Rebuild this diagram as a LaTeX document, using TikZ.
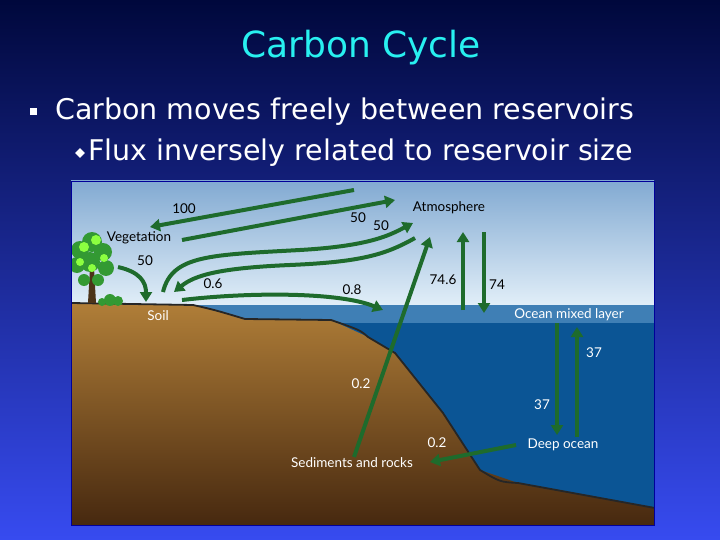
\documentclass[tikz,border=0pt]{standalone}
\usepackage{fontspec}
\setmainfont{DejaVu Sans}
\newfontfamily\lbl{Lato}
\usetikzlibrary{arrows.meta}
\definecolor{arr}{HTML}{1E6B2C}
\definecolor{soilc}{HTML}{B07E38}
\definecolor{mixc}{HTML}{3F7FB5}
\definecolor{deepc}{HTML}{0B5595}
\tikzset{flux/.style={draw=arr,line width=4pt,-{Triangle[width=12pt,length=10pt]}},
 lab/.style={font=\lbl\fontsize{13.5}{15}\selectfont,inner sep=0pt},
 wlab/.style={lab,text=white}}
\begin{document}
\begin{tikzpicture}[x=1pt,y=-1pt]
\useasboundingbox (0,0) rectangle (720,540);
\shade[top color={rgb,255:red,0;green,8;blue,60},bottom color={rgb,255:red,55;green,75;blue,240}] (0,0) rectangle (720,540);
\node[text={rgb,255:red,40;green,240;blue,240},font=\fontsize{36}{40}\selectfont] (title) at (361,48) {Carbon Cycle};
\node[fill=white,minimum size=7pt,inner sep=0pt] (b1) at (33,112) {};
\node[anchor=west,text=white,font=\fontsize{28.5}{32}\selectfont,inner sep=0pt] (t1) at (55,112) {Carbon moves freely between reservoirs};
\node[fill=white,rotate=45,minimum size=7pt,inner sep=0pt] (b2) at (80,153) {};
\node[anchor=west,text=white,font=\fontsize{28.5}{32}\selectfont,inner sep=0pt] (t2) at (88,153) {Flux inversely related to reservoir size};
% picture
\begin{scope}
\clip (71,181) rectangle (654,525);
\shade[top color={rgb,255:red,130;green,170;blue,210},bottom color={rgb,255:red,225;green,238;blue,248}] (71,181) rectangle (654,305);
\fill[mixc] (71,305) rectangle (654,323);
\fill[deepc] (71,323) rectangle (654,525);
\shade[top color=soilc,bottom color={rgb,255:red,70;green,40;blue,15}] (71,303) -- (193,305) -- (245,319) -- (331,320) -- (368,337) -- (395,353) -- (443,413) -- (480,470) -- (518,483) -- (655,508) -- (655,526) -- (71,526) -- cycle;
\draw[line width=1.8pt,black!85] (71,303) -- (193,305) .. controls (215,310) .. (245,319) -- (331,320) .. controls (360,330) .. (368,337) -- (395,353) -- (443,413) -- (480,470) .. controls (500,482) .. (518,483) -- (655,508);
% tree
\fill[brown!40!black] (88,303) -- (90,268) -- (94,268) -- (96,303) -- cycle;
\foreach \p/\r in {{(80,250)}/9,{(92,242)}/10,{(103,252)}/9,{(77,265)}/8,{(90,262)}/10,{(106,268)}/8,{(84,280)}/6,{(98,280)}/6}
  \fill[green!50!black!80] \p circle (\r);
\foreach \p/\r in {{(84,247)}/5,{(96,240)}/5,{(104,258)}/4,{(80,262)}/4,{(92,268)}/4}
  \fill[green!60!yellow!75] \p circle (\r);
\foreach \p/\r in {{(110,300)}/6,{(118,301)}/5,{(102,302)}/4}
  \fill[green!50!black!80] \p circle (\r);
\end{scope}
\draw[blue!60!black,line width=0.8pt] (71,181) rectangle (654,525);
% arrows
\draw[flux] (354,190) -- (150,227);
\draw[flux] (182,240) -- (395,200);
\draw[flux] (163,292) .. controls (172,255) and (210,255) .. (300,250) .. controls (370,246) and (390,235) .. (413,223);
\draw[flux] (415,238) .. controls (385,255) and (360,262) .. (290,265) .. controls (220,268) and (195,275) .. (174,292);
\draw[flux] (118,267) .. controls (140,272) and (146,282) .. (146,302);
\draw[flux] (182,300) .. controls (250,292) and (340,292) .. (383,310);
\draw[flux] (354,457) -- (430,237);
\draw[flux] (463,310) -- (463,232);
\draw[flux] (484,232) -- (484,313);
\draw[flux] (557,323) -- (557,435);
\draw[flux] (577,437) -- (577,327);
\draw[flux] (516,445) -- (430,462);
% labels
\node[lab] (atm) at (449,208) {Atmosphere};
\node[lab] (veg) at (139,238) {Vegetation};
\node[lab] (l100) at (184,209) {100};
\node[lab] (l50a) at (358,218) {50};
\node[lab] (l50b) at (381,226) {50};
\node[lab] (l50c) at (145,261) {50};
\node[lab] (l06) at (213,284) {0.6};
\node[lab] (l08) at (352,290) {0.8};
\node[lab] (l746) at (443,280) {74.6};
\node[lab] (l74) at (497,285) {74};
\node[wlab] (soil) at (158,316) {Soil};
\node[wlab] (oml) at (569,315) {Ocean mixed layer};
\node[wlab] (l37a) at (594,353) {37};
\node[wlab] (l37b) at (542,405) {37};
\node[wlab] (l02a) at (361,384) {0.2};
\node[wlab] (l02b) at (437,443) {0.2};
\node[wlab] (deep) at (563,445) {Deep ocean};
\node[wlab] (sed) at (352,463) {Sediments and rocks};
\end{tikzpicture}
\end{document}
